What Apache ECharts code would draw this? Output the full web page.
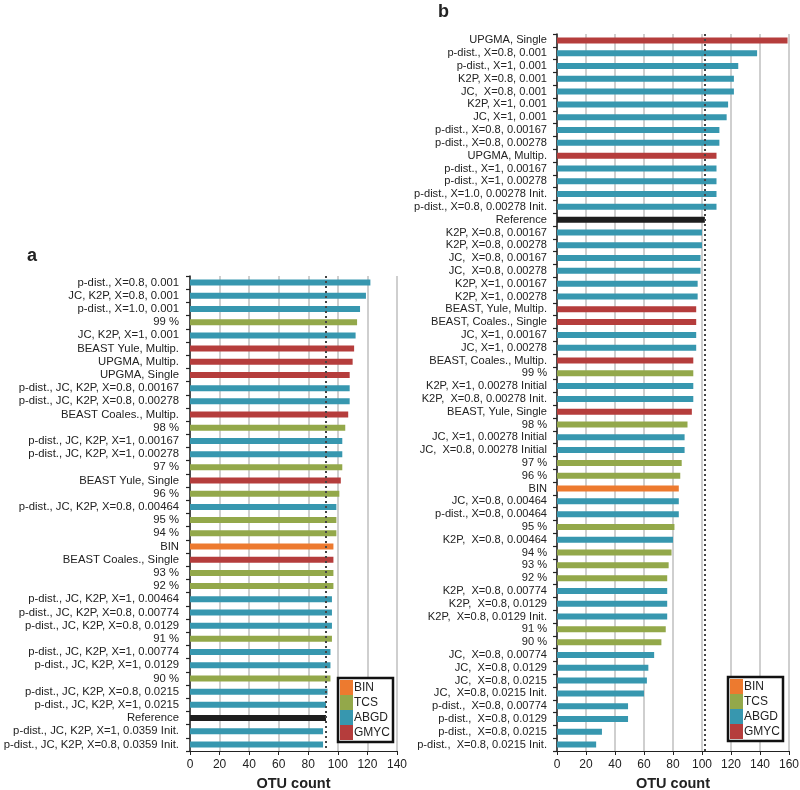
<!DOCTYPE html>
<html>
<head>
<meta charset="utf-8">
<script src="https://cdn.jsdelivr.net/npm/echarts@6/dist/echarts.min.js"></script>
<style>html,body{margin:0;padding:0;background:#fff}#c{width:800px;height:790px}</style>
</head>
<body>
<div id="c"></div>
<script>
// ---------- Panel a data ----------
var labelsA = [
  'p-dist., X=0.8, 0.001', 'JC, K2P, X=0.8, 0.001', 'p-dist., X=1.0, 0.001', '99 %',
  'JC, K2P, X=1, 0.001', 'BEAST Yule, Multip.', 'UPGMA, Multip.', 'UPGMA, Single',
  'p-dist., JC, K2P, X=0.8, 0.00167', 'p-dist., JC, K2P, X=0.8, 0.00278', 'BEAST Coales., Multip.', '98 %',
  'p-dist., JC, K2P, X=1, 0.00167', 'p-dist., JC, K2P, X=1, 0.00278', '97 %', 'BEAST Yule, Single',
  '96 %', 'p-dist., JC, K2P, X=0.8, 0.00464', '95 %', '94 %',
  'BIN', 'BEAST Coales., Single', '93 %', '92 %',
  'p-dist., JC, K2P, X=1, 0.00464', 'p-dist., JC, K2P, X=0.8, 0.00774', 'p-dist., JC, K2P, X=0.8, 0.0129', '91 %',
  'p-dist., JC, K2P, X=1, 0.00774', 'p-dist., JC, K2P, X=1, 0.0129', '90 %', 'p-dist., JC, K2P, X=0.8, 0.0215',
  'p-dist., JC, K2P, X=1, 0.0215', 'Reference', 'p-dist., JC, K2P, X=1, 0.0359 Init.', 'p-dist., JC, K2P, X=0.8, 0.0359 Init.'
];
var valuesA = [
  122, 119, 115, 113,
  112, 111, 110, 108,
  108, 108, 107, 105,
  103, 103, 103, 102,
  101, 99, 99, 99,
  97, 97, 97, 97,
  96, 96, 96, 96,
  95, 95, 95, 93,
  92, 92, 90, 90
];
var groupsA = [
  'ABGD','ABGD','ABGD','TCS',
  'ABGD','GMYC','GMYC','GMYC',
  'ABGD','ABGD','GMYC','TCS',
  'ABGD','ABGD','TCS','GMYC',
  'TCS','ABGD','TCS','TCS',
  'BIN','GMYC','TCS','TCS',
  'ABGD','ABGD','ABGD','TCS',
  'ABGD','ABGD','TCS','ABGD',
  'ABGD','Reference','ABGD','ABGD'
];
var refA = 92;

// ---------- Panel b data ----------
var labelsB = [
  'UPGMA, Single', 'p-dist., X=0.8, 0.001', 'p-dist., X=1, 0.001', 'K2P, X=0.8, 0.001',
  'JC,  X=0.8, 0.001', 'K2P, X=1, 0.001', 'JC, X=1, 0.001', 'p-dist., X=0.8, 0.00167',
  'p-dist., X=0.8, 0.00278', 'UPGMA, Multip.', 'p-dist., X=1, 0.00167', 'p-dist., X=1, 0.00278',
  'p-dist., X=1.0, 0.00278 Init.', 'p-dist., X=0.8, 0.00278 Init.', 'Reference', 'K2P, X=0.8, 0.00167',
  'K2P, X=0.8, 0.00278', 'JC,  X=0.8, 0.00167', 'JC,  X=0.8, 0.00278', 'K2P, X=1, 0.00167',
  'K2P, X=1, 0.00278', 'BEAST, Yule, Multip.', 'BEAST, Coales., Single', 'JC, X=1, 0.00167',
  'JC, X=1, 0.00278', 'BEAST, Coales., Multip.', '99 %', 'K2P, X=1, 0.00278 Initial',
  'K2P,  X=0.8, 0.00278 Init.', 'BEAST, Yule, Single', '98 %', 'JC, X=1, 0.00278 Initial',
  'JC,  X=0.8, 0.00278 Initial', '97 %', '96 %', 'BIN',
  'JC, X=0.8, 0.00464', 'p-dist., X=0.8, 0.00464', '95 %', 'K2P,  X=0.8, 0.00464',
  '94 %', '93 %', '92 %', 'K2P,  X=0.8, 0.00774',
  'K2P,  X=0.8, 0.0129', 'K2P,  X=0.8, 0.0129 Init.', '91 %', '90 %',
  'JC,  X=0.8, 0.00774', 'JC,  X=0.8, 0.0129', 'JC,  X=0.8, 0.0215', 'JC,  X=0.8, 0.0215 Init.',
  'p-dist.,  X=0.8, 0.00774', 'p-dist.,  X=0.8, 0.0129', 'p-dist.,  X=0.8, 0.0215', 'p-dist.,  X=0.8, 0.0215 Init.'
];
var valuesB = [
  159, 138, 125, 122,
  122, 118, 117, 112,
  112, 110, 110, 110,
  110, 110, 102, 100,
  100, 99, 99, 97,
  97, 96, 96, 96,
  96, 94, 94, 94,
  94, 93, 90, 88,
  88, 86, 85, 84,
  84, 84, 81, 80,
  79, 77, 76, 76,
  76, 76, 75, 72,
  67, 63, 62, 60,
  49, 49, 31, 27
];
var groupsB = [
  'GMYC','ABGD','ABGD','ABGD',
  'ABGD','ABGD','ABGD','ABGD',
  'ABGD','GMYC','ABGD','ABGD',
  'ABGD','ABGD','Reference','ABGD',
  'ABGD','ABGD','ABGD','ABGD',
  'ABGD','GMYC','GMYC','ABGD',
  'ABGD','GMYC','TCS','ABGD',
  'ABGD','GMYC','TCS','ABGD',
  'ABGD','TCS','TCS','BIN',
  'ABGD','ABGD','TCS','ABGD',
  'TCS','TCS','TCS','ABGD',
  'ABGD','ABGD','TCS','TCS',
  'ABGD','ABGD','ABGD','ABGD',
  'ABGD','ABGD','ABGD','ABGD'
];
var refB = 102;

var groupNames = ['BIN', 'TCS', 'ABGD', 'GMYC', 'Reference'];
var groupColors = { BIN: '#ED7A2F', TCS: '#93A84A', ABGD: '#3797AF', GMYC: '#B53D3C', Reference: '#1E1E1E' };

var FONT = '"Liberation Sans", Arial, sans-serif';

function buildSeries(values, groups, idx, refVal) {
  return groupNames.map(function (g) {
    var s = {
      name: g,
      type: 'bar',
      stack: 'p' + idx,
      xAxisIndex: idx,
      yAxisIndex: idx,
      barWidth: 6,
      itemStyle: { color: groupColors[g] },
      data: values.map(function (v, i) { return groups[i] === g ? v : '-'; }),
      emphasis: { disabled: true },
      animation: false
    };
    if (g === 'Reference') {
      s.markLine = {
        silent: true,
        symbol: 'none',
        label: { show: false },
        lineStyle: { type: [2, 3], color: '#444', width: 2 },
        data: [{ xAxis: refVal }],
        animation: false
      };
    }
    return s;
  });
}

function xAxisCfg(idx, max) {
  return {
    type: 'value', gridIndex: idx, min: 0, max: max, interval: 20,
    name: 'OTU count', nameLocation: 'middle', nameGap: 25,
    nameTextStyle: { fontFamily: FONT, fontSize: 14.5, fontWeight: 'bold', color: '#222' },
    axisLine: { show: true, lineStyle: { color: '#222', width: 1.2 } },
    axisTick: { show: true, length: 4, lineStyle: { color: '#222' } },
    axisLabel: { fontFamily: FONT, fontSize: 12, color: '#222', margin: 8 },
    splitLine: { show: true, lineStyle: { color: '#c3c3c3', width: 1.6 } }
  };
}

function yAxisCfg(idx, labels, fs, margin) {
  return {
    type: 'category', gridIndex: idx, inverse: true, data: labels,
    axisLine: { show: true, lineStyle: { color: '#222', width: 1.5 } },
    axisTick: { show: true, length: 4, interval: 0, lineStyle: { color: '#222', width: 1.2 } },
    axisLabel: { interval: 0, fontFamily: FONT, fontSize: fs, color: '#222', margin: margin },
    splitLine: { show: false }
  };
}

function legendCfg(left, top) {
  return {
    data: ['BIN', 'TCS', 'ABGD', 'GMYC'],
    orient: 'vertical', left: left, top: top,
    itemGap: 0, itemWidth: 13, itemHeight: 15,
    icon: 'rect',
    padding: [2, 3, 2, 2],
    borderColor: '#111', borderWidth: 2.5,
    backgroundColor: '#fff',
    selectedMode: false,
    textStyle: { fontFamily: FONT, fontSize: 12, color: '#222', padding: [0, 0, 0, -4] }
  };
}

var chart = echarts.init(document.getElementById('c'), null, { renderer: 'canvas' });
chart.setOption({
  backgroundColor: '#fff',
  animation: false,
  title: [
    { text: 'a', left: 22, top: 242, textStyle: { fontFamily: FONT, fontSize: 18, fontWeight: 'bold', color: '#222' } },
    { text: 'b', left: 433, top: -2, textStyle: { fontFamily: FONT, fontSize: 18, fontWeight: 'bold', color: '#222' } }
  ],
  legend: [legendCfg(338, 678), legendCfg(728, 677)],
  grid: [
    { left: 190, right: 403, top: 276, bottom: 39, containLabel: false, outerBoundsMode: 'none' },
    { left: 557, right: 11, top: 34, bottom: 39, containLabel: false, outerBoundsMode: 'none' }
  ],
  xAxis: [xAxisCfg(0, 140), xAxisCfg(1, 160)],
  yAxis: [yAxisCfg(0, labelsA, 11.3, 11), yAxisCfg(1, labelsB, 11.1, 10)],
  series: buildSeries(valuesA, groupsA, 0, refA).concat(buildSeries(valuesB, groupsB, 1, refB))
});
</script>
</body>
</html>
